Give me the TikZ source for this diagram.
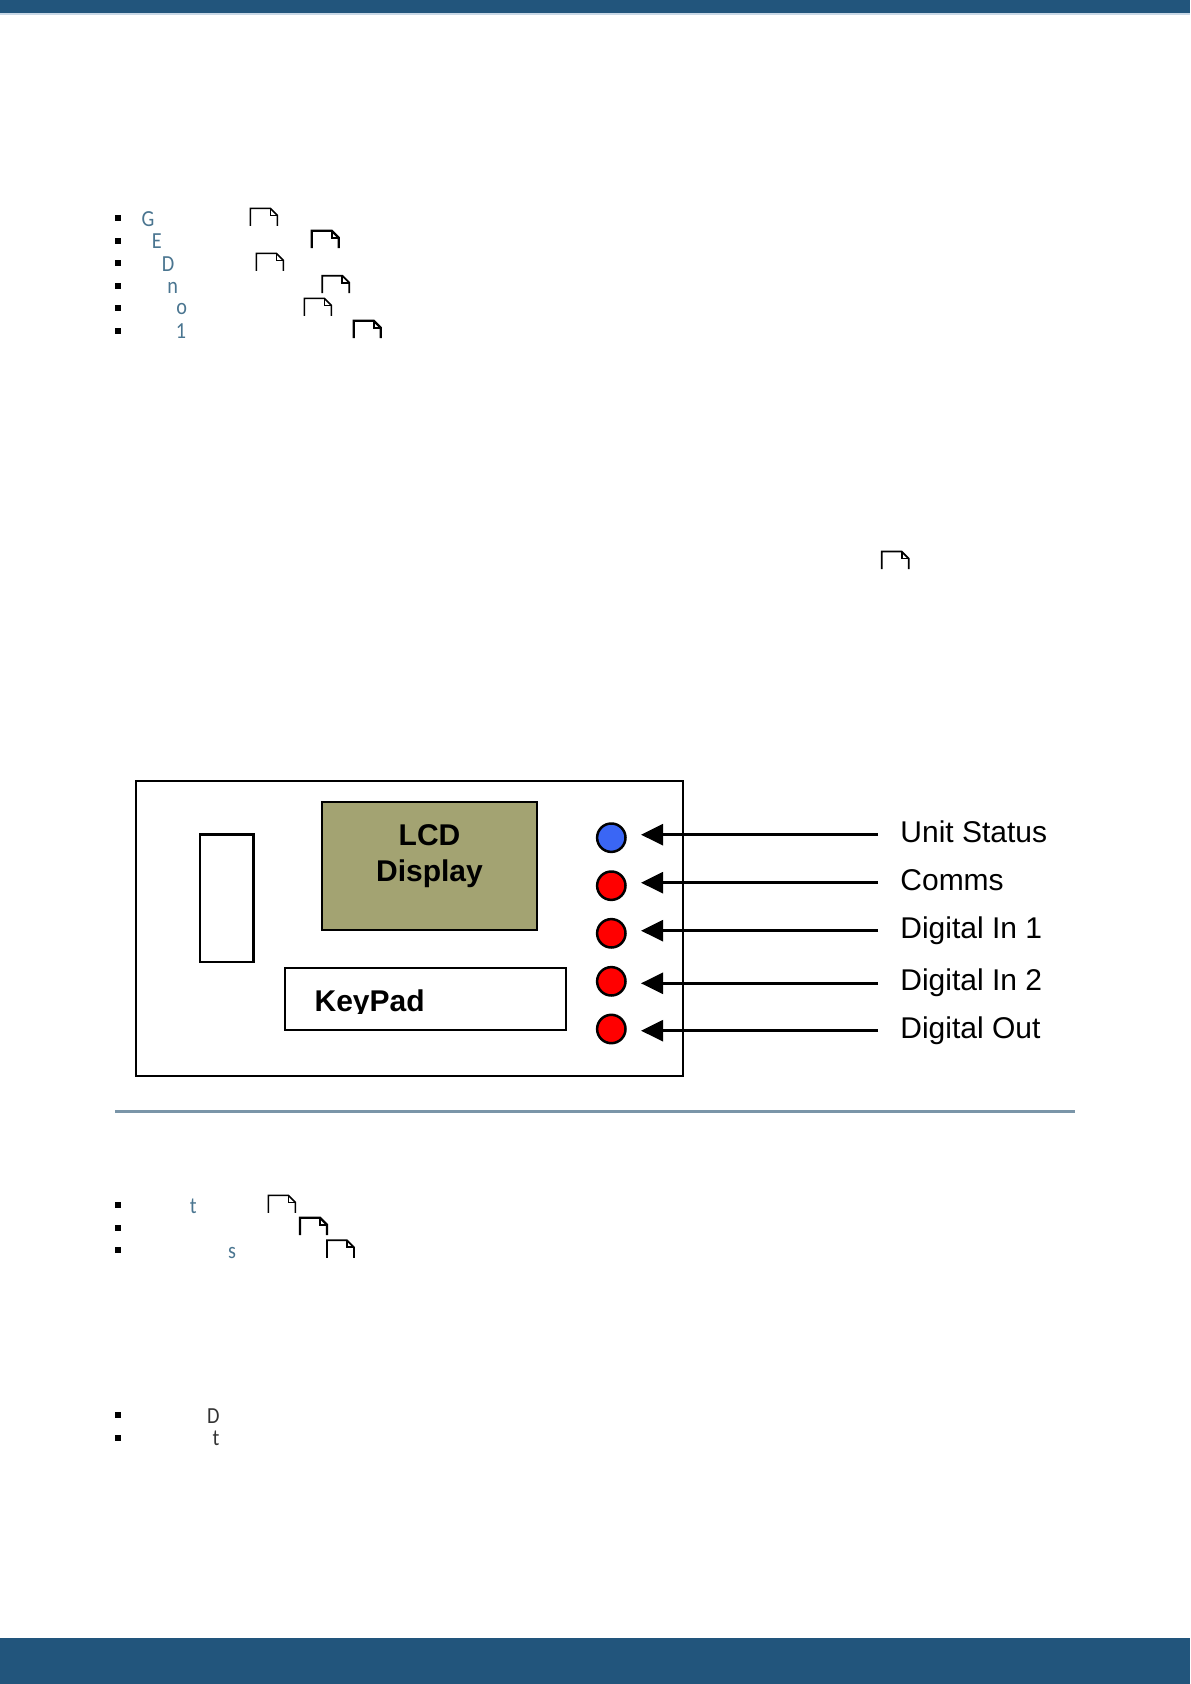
\documentclass[tikz,border=0pt]{standalone}
\usepackage{fontspec}
\setmainfont{Liberation Sans}
\newfontfamily\listfont[FakeStretch=0.88]{Carlito}
\usetikzlibrary{calc,positioning,arrows.meta}
\definecolor{bandblue}{HTML}{22557C}
\definecolor{bandedge}{HTML}{C9D8E6}
\definecolor{rulegrey}{HTML}{7A95A8}
\definecolor{linkteal}{HTML}{4A7590}
\definecolor{lcdolive}{HTML}{A3A372}
\definecolor{ledblue}{HTML}{3A66F5}
\definecolor{ledred}{HTML}{FF0000}
\tikzset{
  panel/.style={draw, line width=1.25pt, inner sep=0pt},
  led/.style={circle, draw, line width=1.25pt, inner sep=0pt, minimum size=14.2pt},
  tag/.style={anchor=base west, inner sep=0pt, font=\fontsize{15}{18}\selectfont},
  boldtag/.style={inner sep=0pt, font=\bfseries\fontsize{15}{18}\selectfont},
  bullet/.style={fill=black, inner sep=0pt, minimum size=3pt},
  letter/.style={inner sep=0pt, text=linkteal, font=\listfont\fontsize{11.5}{13}\selectfont},
  darkletter/.style={letter, text=black!80},
  feed/.style={line width=1.25pt, -{Triangle[length=11pt,width=10.5pt]}},
  pageicon/.pic={
    \draw (0,17.5) -- (0,0) -- (20,0) -- (27,7) -- (27,17.5);
    \draw (20,0) -- (20,7) -- (27,7);
  }
}
\begin{document}
\begin{tikzpicture}[x=0.5pt,y=-0.5pt]
  \useasboundingbox (0,0) rectangle (1190,1684);
  % bands and rule
  \fill[bandedge] (0,13) rectangle (1190,15);
  \fill[bandblue] (0,0) rectangle (1190,13);
  \fill[bandblue] (0,1638) rectangle (1190,1684);
  \draw[rulegrey, line width=1.5pt] (115,1111.4) -- (1075,1111.4);
  % first list
  \node[bullet] (b1) at (118,218) {};
  \node[bullet] (b2) at (118,240.7) {};
  \node[bullet] (b3) at (118,263.3) {};
  \node[bullet] (b4) at (118,285.7) {};
  \node[bullet] (b5) at (118,308.3) {};
  \node[bullet] (b6) at (118,330.7) {};
  \node[letter] (l1) at (148,219.5) {G};
  \node[letter] (l2) at (156.7,241.5) {E};
  \node[letter] (l3) at (168,264) {D};
  \node[letter] (l4) at (172.7,287.5) {n};
  \node[letter] (l5) at (181.7,309.5) {o};
  \node[letter] (l6) at (181,331) {1};
  \pic[line width=0.75pt] at (250.3,208.3) {pageicon};
  \pic[line width=1.1pt] at (311.7,230.7) {pageicon};
  \pic[line width=0.75pt] at (256.3,253.3) {pageicon};
  \pic[line width=0.9pt] at (322.3,275.7) {pageicon};
  \pic[line width=0.75pt] at (304.3,298.3) {pageicon};
  \pic[line width=1.1pt] at (353.7,320.7) {pageicon};
  \pic[line width=0.9pt] at (881.7,551.5) {pageicon};
  % front panel
  \node[panel, minimum width=273.5pt, minimum height=147.5pt] (case) at (409.5,928.5) {};
  \node[panel, minimum width=26.75pt, minimum height=63.75pt] (slot) at (226.8,898.2) {};
  \node[panel, fill=lcdolive, minimum width=107.5pt, minimum height=64pt] (lcd) at (429.5,866) {};
  \node[boldtag] (lcdtop) at (429.5,835) {LCD};
  \node[boldtag] (lcdlow) at (429.5,874) {Display};
  \node[panel, minimum width=140.5pt, minimum height=31pt] (keys) at (425.6,998.8) {};
  \begin{scope}
    \clip (300,985) rectangle (440,1013);
    \node[boldtag, anchor=base west] (keytag) at (314.2,1011) {KeyPad};
  \end{scope}
  % indicators
  \node[led, fill=ledblue] (status) at (611.3,837.7) {};
  \node[led, fill=ledred] (comms) at (611.3,885.7) {};
  \node[led, fill=ledred] (inone) at (611.3,933.3) {};
  \node[led, fill=ledred] (intwo) at (611.3,981.3) {};
  \node[led, fill=ledred] (outled) at (611.3,1029) {};
  \coordinate (statusin) at (641,834.7);
  \coordinate (commsin) at (641,882.7);
  \coordinate (oneIn) at (641,930.7);
  \coordinate (twoIn) at (641,983.3);
  \coordinate (outIn) at (641,1030.7);
  \coordinate (statusfrom) at (878,834.7);
  \coordinate (commsfrom) at (878,882.7);
  \coordinate (oneFrom) at (878,930.7);
  \coordinate (twoFrom) at (878,983.3);
  \coordinate (outFrom) at (878,1030.7);
  \draw[feed] (statusfrom) -- (statusin);
  \draw[feed] (commsfrom) -- (commsin);
  \draw[feed] (oneFrom) -- (oneIn);
  \draw[feed] (twoFrom) -- (twoIn);
  \draw[feed] (outFrom) -- (outIn);
  \node[tag] (statustag) at (900,842.3) {Unit Status};
  \node[tag] (commstag) at (900,890.3) {Comms};
  \node[tag] (onetag) at (900,938.3) {Digital In 1};
  \node[tag] (twotag) at (900,990.3) {Digital In 2};
  \node[tag] (outtag) at (900,1038.3) {Digital Out};
  % second list
  \node[bullet] (b7) at (118,1205.3) {};
  \node[bullet] (b8) at (118,1227.7) {};
  \node[bullet] (b9) at (118,1250.3) {};
  \node[letter] (l7) at (193.3,1206) {t};
  \node[letter] (l9) at (232,1252.5) {s};
  \pic[line width=0.75pt] at (268.3,1195.3) {pageicon};
  \pic[line width=1.1pt] at (300,1217.7) {pageicon};
  \pic[line width=0.9pt] at (326.9,1240.3) {pageicon};
  % third list
  \node[bullet] (b10) at (118,1415.3) {};
  \node[bullet] (b11) at (118,1437.7) {};
  \node[darkletter] (l10) at (213.3,1416) {D};
  \node[darkletter] (l11) at (216,1438) {t};
\end{tikzpicture}
\end{document}
